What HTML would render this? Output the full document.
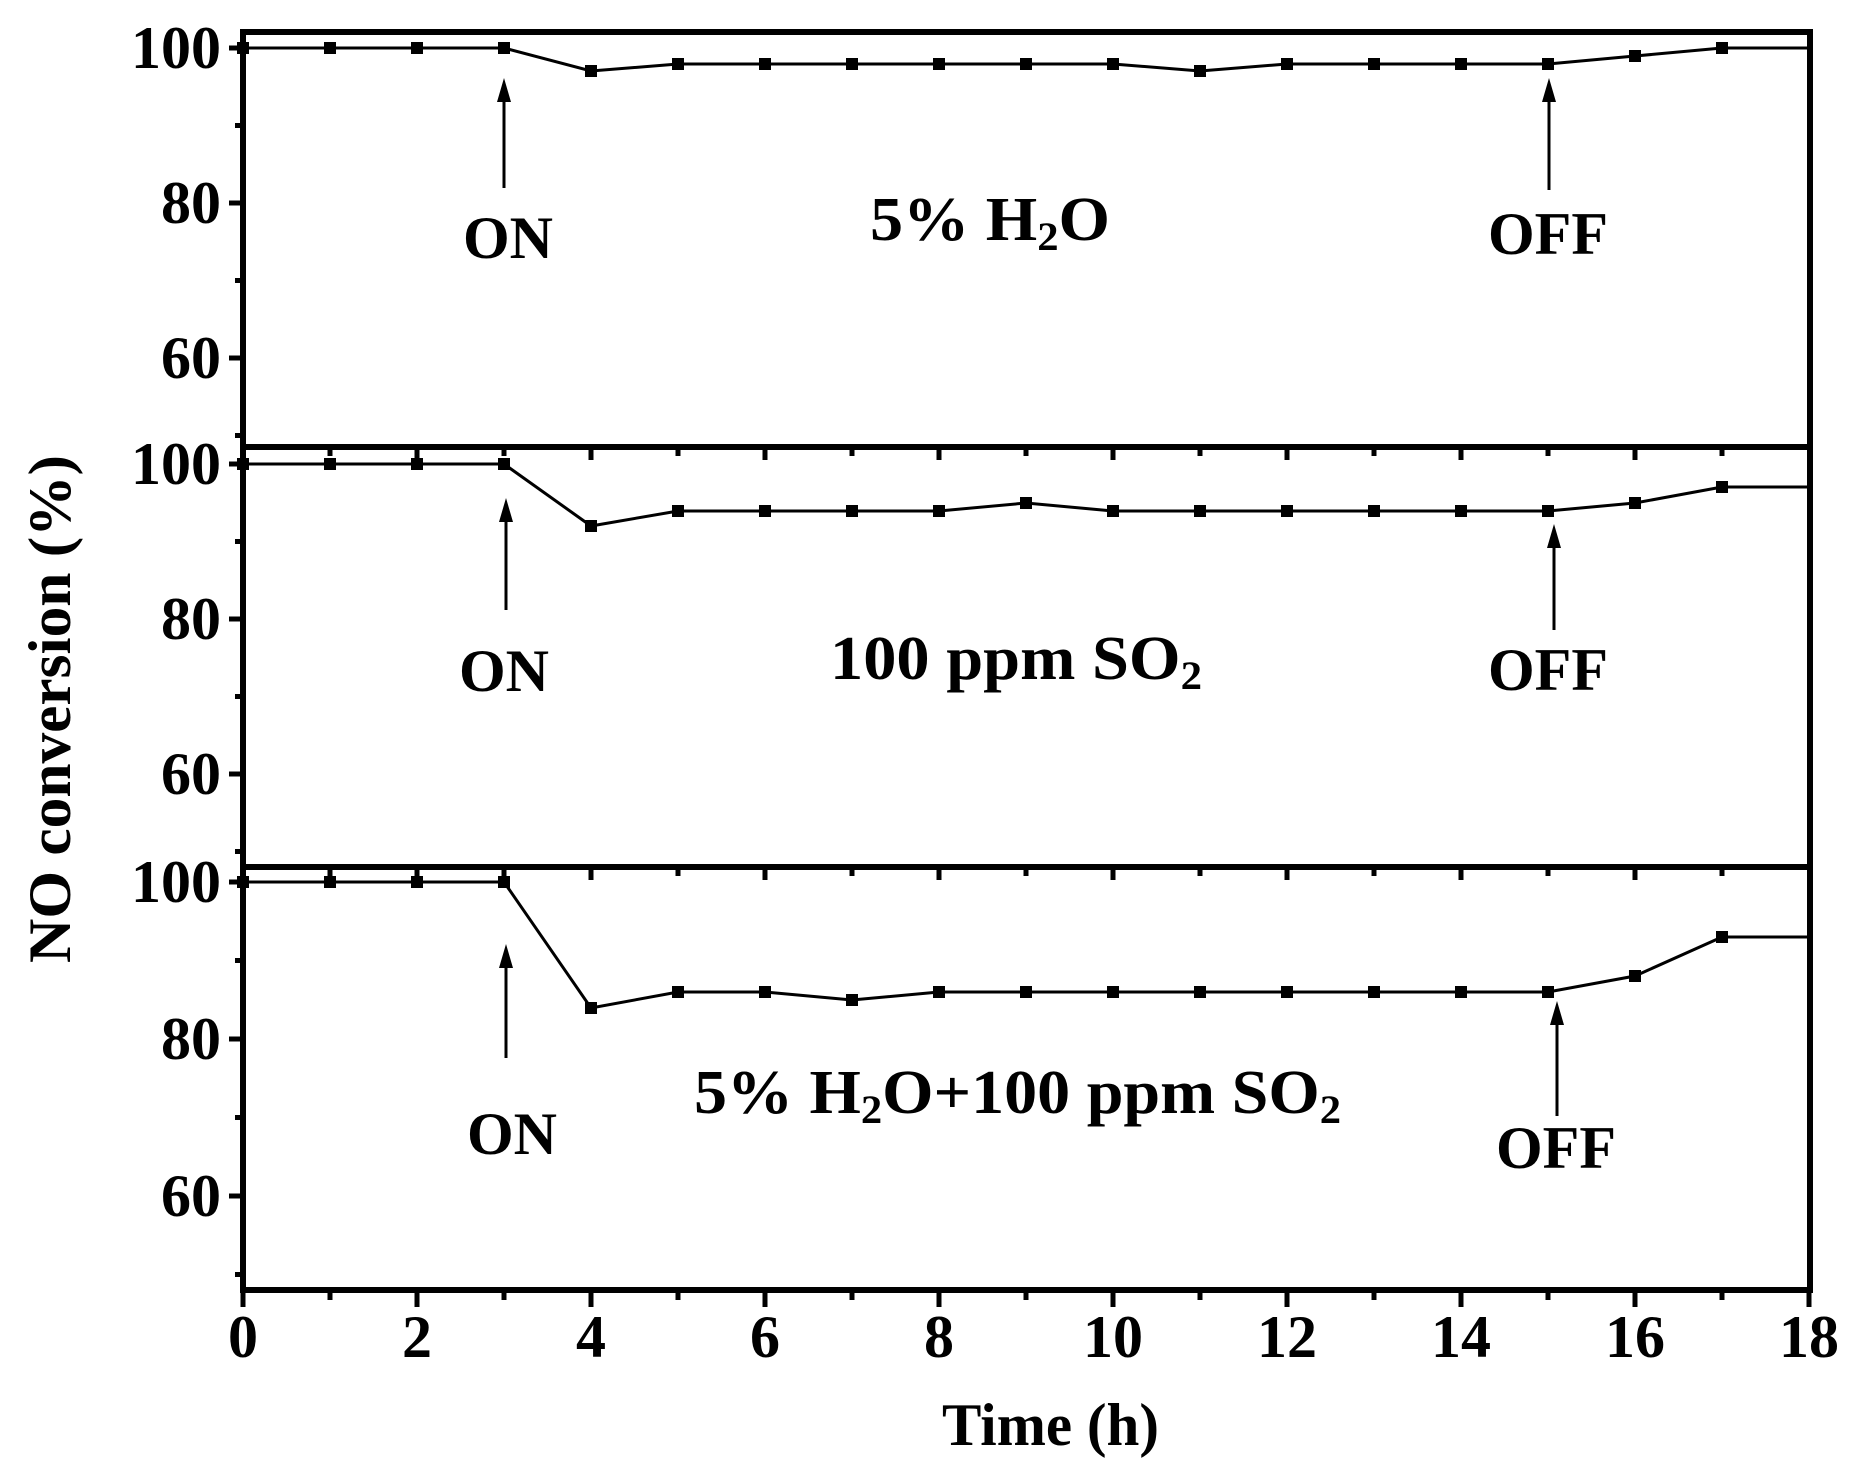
<!DOCTYPE html>
<html><head><meta charset="utf-8"><style>
html,body{margin:0;padding:0;background:#fff;}
svg{display:block;}
text{font-family:"Liberation Serif",serif;font-weight:bold;fill:#000;}
</style></head><body>
<svg width="1870" height="1473" viewBox="0 0 1870 1473" xmlns="http://www.w3.org/2000/svg">
<g stroke="#000" stroke-width="6" fill="none">
<rect x="243" y="32" width="1567" height="1258"/>
<line x1="243" y1="447" x2="1810" y2="447"/>
<line x1="243" y1="867" x2="1810" y2="867"/>
</g>
<g stroke="#000" stroke-width="5">
<path d="M243 48H229M243 125.5H235M243 203H229M243 280.5H235M243 358H229M243 435.5H235
M243 464H229M243 541.5H235M243 619H229M243 696.5H235M243 774H229M243 851.5H235
M243 882H229M243 960.5H235M243 1039H229M243 1117.5H235M243 1196H229M243 1274.5H235"/>
<path d="M243 1290V1307M330 1290V1300M417 1290V1307M504 1290V1300M591 1290V1307M678 1290V1300M765 1290V1307M852 1290V1300M939 1290V1307M1026 1290V1300M1113 1290V1307M1200 1290V1300M1287 1290V1307M1374 1290V1300M1461 1290V1307M1548 1290V1300M1635 1290V1307M1722 1290V1300M1809 1290V1307"/>
<path d="M330 447V456M417 447V460M504 447V456M591 447V460M678 447V456M765 447V460M852 447V456M939 447V460M1026 447V456M1113 447V460M1200 447V456M1287 447V460M1374 447V456M1461 447V460M1548 447V456M1635 447V460M1722 447V456"/>
<path d="M330 867V876M417 867V880M504 867V876M591 867V880M678 867V876M765 867V880M852 867V876M939 867V880M1026 867V876M1113 867V880M1200 867V876M1287 867V880M1374 867V876M1461 867V880M1548 867V876M1635 867V880M1722 867V876"/>
</g>
<g fill="none" stroke="#000" stroke-width="3">
<polyline points="243,48 330,48 417,48 504,48 591,71 678,64 765,64 852,64 939,64 1026,64 1113,64 1200,71 1287,64 1374,64 1461,64 1548,64 1635,56 1722,48 1809,48"/>
<polyline points="243,464 330,464 417,464 504,464 591,526 678,511 765,511 852,511 939,511 1026,503 1113,511 1200,511 1287,511 1374,511 1461,511 1548,511 1635,503 1722,487 1809,487"/>
<polyline points="243,882 330,882 417,882 504,882 591,1008 678,992 765,992 852,1000 939,992 1026,992 1113,992 1200,992 1287,992 1374,992 1461,992 1548,992 1635,976 1722,937 1809,937"/>
</g>
<g fill="#000">
<path d="M237 42h12v12h-12zM324 42h12v12h-12zM411 42h12v12h-12zM498 42h12v12h-12zM585 65h12v12h-12zM672 58h12v12h-12zM759 58h12v12h-12zM846 58h12v12h-12zM933 58h12v12h-12zM1020 58h12v12h-12zM1107 58h12v12h-12zM1194 65h12v12h-12zM1281 58h12v12h-12zM1368 58h12v12h-12zM1455 58h12v12h-12zM1542 58h12v12h-12zM1629 50h12v12h-12zM1716 42h12v12h-12z"/>
<path d="M237 458h12v12h-12zM324 458h12v12h-12zM411 458h12v12h-12zM498 458h12v12h-12zM585 520h12v12h-12zM672 505h12v12h-12zM759 505h12v12h-12zM846 505h12v12h-12zM933 505h12v12h-12zM1020 497h12v12h-12zM1107 505h12v12h-12zM1194 505h12v12h-12zM1281 505h12v12h-12zM1368 505h12v12h-12zM1455 505h12v12h-12zM1542 505h12v12h-12zM1629 497h12v12h-12zM1716 481h12v12h-12z"/>
<path d="M237 876h12v12h-12zM324 876h12v12h-12zM411 876h12v12h-12zM498 876h12v12h-12zM585 1002h12v12h-12zM672 986h12v12h-12zM759 986h12v12h-12zM846 994h12v12h-12zM933 986h12v12h-12zM1020 986h12v12h-12zM1107 986h12v12h-12zM1194 986h12v12h-12zM1281 986h12v12h-12zM1368 986h12v12h-12zM1455 986h12v12h-12zM1542 986h12v12h-12zM1629 970h12v12h-12zM1716 931h12v12h-12z"/>
</g>
<g stroke="#000" stroke-width="3">
<path d="M504 98V188M1549 98V190M506 518V610M1554 544V630M506 964V1058M1557 1021V1116"/>
</g>
<g fill="#000">
<path d="M497 102L504 78L511 102zM1542 102L1549 78L1556 102zM499 522L506 498L513 522zM1547 548L1554 524L1561 548zM499 968L506 944L513 968zM1550 1025L1557 1001L1564 1025z"/>
</g>
<g font-size="60" text-anchor="end">
<text x="221" y="68">100</text><text x="221" y="223">80</text><text x="221" y="378">60</text>
<text x="221" y="484">100</text><text x="221" y="639">80</text><text x="221" y="794">60</text>
<text x="221" y="902">100</text><text x="221" y="1059">80</text><text x="221" y="1216">60</text>
</g>
<g font-size="60" text-anchor="middle">
<text x="243" y="1357">0</text><text x="417" y="1357">2</text><text x="591" y="1357">4</text>
<text x="765" y="1357">6</text><text x="939" y="1357">8</text><text x="1113" y="1357">10</text>
<text x="1287" y="1357">12</text><text x="1461" y="1357">14</text><text x="1635" y="1357">16</text>
<text x="1809" y="1357">18</text>
</g>
<text x="942" y="1445" font-size="60" textLength="217" lengthAdjust="spacingAndGlyphs">Time (h)</text>
<text transform="translate(70,963) rotate(-90)" font-size="60" textLength="508" lengthAdjust="spacingAndGlyphs">NO conversion (%)</text>
<g font-size="60" text-anchor="middle">
<text x="508" y="258">ON</text><text x="1548" y="254">OFF</text>
<text x="504" y="691">ON</text><text x="1548" y="690">OFF</text>
<text x="512" y="1154">ON</text><text x="1556" y="1168">OFF</text>
</g>
<text x="870" y="240" font-size="62" textLength="240" lengthAdjust="spacingAndGlyphs">5% H<tspan font-size="40" dy="10">2</tspan><tspan dy="-10">O</tspan></text>
<text x="830" y="679" font-size="62" textLength="372" lengthAdjust="spacingAndGlyphs">100 ppm SO<tspan font-size="40" dy="10">2</tspan></text>
<text x="694" y="1113" font-size="62" textLength="647" lengthAdjust="spacingAndGlyphs">5% H<tspan font-size="40" dy="10">2</tspan><tspan dy="-10">O+100 ppm SO</tspan><tspan font-size="40" dy="10">2</tspan></text>
</svg>
</body></html>
